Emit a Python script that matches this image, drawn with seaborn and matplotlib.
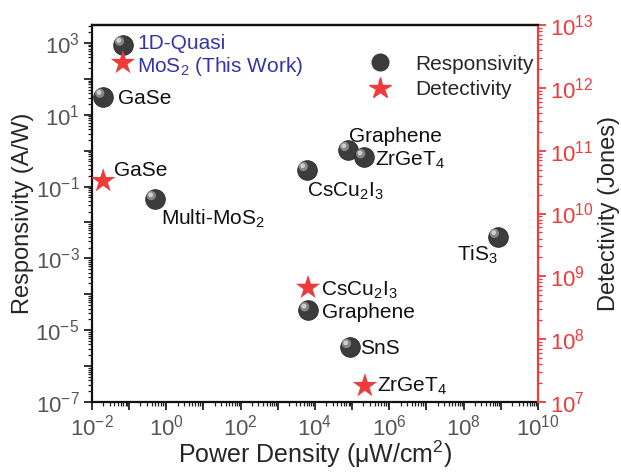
import numpy as np
import pandas as pd
import matplotlib
matplotlib.use("Agg")
import matplotlib.pyplot as plt
import matplotlib.transforms as mtransforms
from matplotlib.ticker import LogLocator, FuncFormatter, NullFormatter
from matplotlib.lines import Line2D
import seaborn as sns

# Responsivity data (left axis)
resp_names = ["1D-Quasi MoS2", "GaSe", "Multi-MoS2", "CsCu2I3", "Graphene", "ZrGeT4", "TiS3", "Graphene", "SnS"]
resp_power = [0.068, 0.02, 0.49, 6000, 7.7e4, 2.1e5, 8.3e8, 6500, 8.7e4]
resp_values = [900, 32, 0.045, 0.29, 1.05, 0.66, 0.004, 3.6e-5, 3.4e-6]

# Detectivity data (right axis)
det_names = ["MoS2 (This Work)", "GaSe", "CsCu2I3", "ZrGeT4"]
det_power = [0.068, 0.02, 6500, 2.2e5]
det_values = [2.5e12, 3.3e10, 6.6e8, 1.8e7]

sns.set_style("ticks")
plt.rcParams["font.family"] = ["Liberation Sans", "DejaVu Sans"]
plt.rcParams["mathtext.fontset"] = "custom"
plt.rcParams["mathtext.rm"] = "Liberation Sans"
plt.rcParams["mathtext.it"] = "Liberation Sans:italic"
plt.rcParams["mathtext.default"] = "regular"

fig = plt.figure(figsize=(6.21, 4.72), dpi=100)
ax = fig.add_axes([92/621, 1-402/472, (538-92)/621, (402-25)/472])
ax2 = ax.twinx()

df_r = pd.DataFrame({"power": resp_power, "value": resp_values, "name": resp_names})
df_d = pd.DataFrame({"power": det_power, "value": det_values, "name": det_names})

ax.set_xscale("log")
ax.set_yscale("log")
ax2.set_yscale("log")
ax.set_xlim(1e-2, 1e10)
ax.set_ylim(1e-7, 10**3.5)
ax2.set_ylim(1e7, 1e13)

# spheres: dark body + highlight
sns.scatterplot(data=df_r, x="power", y="value", ax=ax, s=200, color="#3c3c3c",
                edgecolor="#2a2a2a", linewidth=0.6, zorder=3, legend=False)
hl = mtransforms.offset_copy(ax.transData, fig=fig, x=-2.5, y=2.5, units="points")
ax.scatter(resp_power, resp_values, s=45, color="#9a9a9a", edgecolor="none",
           transform=hl, zorder=4, alpha=0.8)
ax.scatter(resp_power, resp_values, s=12, color="#d8d8d8", edgecolor="none",
           transform=mtransforms.offset_copy(ax.transData, fig=fig, x=-3, y=3, units="points"),
           zorder=5, alpha=0.9)

sns.scatterplot(data=df_d, x="power", y="value", ax=ax2, s=340, marker="*",
                color="#ee3b3b", edgecolor="none", zorder=3, legend=False)

# Tick formatting
def fmt(v, pos):
    e = int(round(np.log10(v)))
    return r"$10^{%d}$" % e

ax.xaxis.set_major_locator(LogLocator(base=10, numticks=30))
ax.xaxis.set_major_formatter(FuncFormatter(lambda v, p: fmt(v, p) if int(round(np.log10(v))) % 2 == 0 else ""))
ax.xaxis.set_minor_locator(LogLocator(base=10, subs=np.arange(2, 10), numticks=30))
ax.xaxis.set_minor_formatter(NullFormatter())
ax.yaxis.set_major_locator(LogLocator(base=10, numticks=30))
ax.yaxis.set_major_formatter(FuncFormatter(lambda v, p: fmt(v, p) if int(round(np.log10(v))) % 2 == 1 else ""))
ax.yaxis.set_minor_locator(LogLocator(base=10, subs=np.arange(2, 10), numticks=30))
ax.yaxis.set_minor_formatter(NullFormatter())
ax2.yaxis.set_major_locator(LogLocator(base=10, numticks=30))
ax2.yaxis.set_major_formatter(FuncFormatter(fmt))
ax2.yaxis.set_minor_locator(LogLocator(base=10, subs=np.arange(2, 10), numticks=30))
ax2.yaxis.set_minor_formatter(NullFormatter())

tick_color = "#555555"
ax.tick_params(axis="both", which="major", direction="out", length=6, width=1.3,
               labelsize=16, labelcolor=tick_color, color="#222222", pad=3)
ax.tick_params(axis="both", which="minor", direction="out", length=3, width=0.9, color="#222222")
ax2.tick_params(axis="y", which="major", direction="out", length=6, width=1.3,
                labelsize=16, labelcolor="#ee3b3b", color="#ee3b3b", pad=3)
ax2.tick_params(axis="y", which="minor", direction="out", length=3, width=0.9, color="#ee3b3b")

for s in ["left", "bottom", "top"]:
    ax.spines[s].set_linewidth(1.6)
    ax.spines[s].set_color("#111111")
ax2.spines["right"].set_color("#ee3b3b")
ax2.spines["right"].set_linewidth(1.6)
ax2.spines["top"].set_linewidth(1.6)
ax2.spines["top"].set_color("#111111")
ax2.spines["left"].set_visible(False)
ax2.spines["bottom"].set_visible(False)
ax.spines["right"].set_visible(False)

ax.set_xlabel("Power Density (μW/cm$^2$)", fontsize=18, labelpad=-1)
ax.set_ylabel("Responsivity (A/W)", fontsize=17, labelpad=1)
ax2.set_ylabel("Detectivity (Jones)", fontsize=17, labelpad=3)

# Annotations
lab = dict(fontsize=15, color="#111111", va="center", ha="left")
def at(px, py, txt, **kw):
    d = dict(lab)
    d.update(kw)
    fig.text(px/621, 1-py/472, txt, **d)

at(137, 56, "1D-Quasi\nMoS$_2$ (This Work)", color="#3535a8", linespacing=1.15)
at(118, 99, "GaSe")
at(114, 171, "GaSe")
at(161, 219, "Multi-MoS$_2$")
at(307, 191, "CsCu$_2$I$_3$")
at(349, 136, "Graphene")
at(375, 160, "ZrGeT$_4$")
at(457, 255, "TiS$_3$")
at(321, 290, "CsCu$_2$I$_3$")
at(322, 312, "Graphene")
at(360, 348, "SnS")
at(377, 386, "ZrGeT$_4$")

# Legend
handles = [Line2D([], [], marker="o", linestyle="none", markersize=12, color="#3c3c3c"),
           Line2D([], [], marker="*", linestyle="none", markersize=16, color="#ee3b3b")]
leg = ax.legend(handles, ["Responsivity", "Detectivity"], loc="upper left",
                bbox_to_anchor=((340-92)/446, 1-(36-25)/377), frameon=False,
                fontsize=15, handletextpad=0.7, labelspacing=0.3)

fig.savefig("out.png", dpi=100)
